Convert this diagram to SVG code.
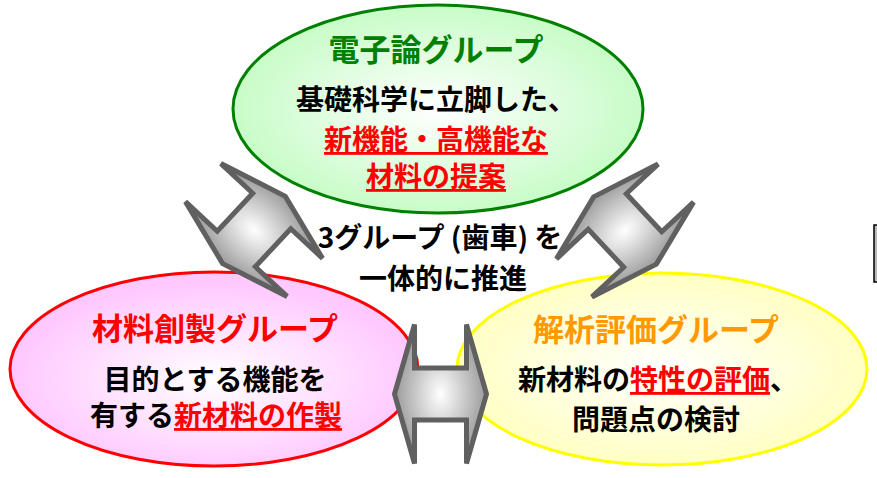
<svg xmlns="http://www.w3.org/2000/svg" width="877" height="478" viewBox="0 0 877 478">
<style>
  text { font-family: "Noto Sans CJK JP", "Noto Sans CJK SC", sans-serif; font-weight: bold; text-anchor: middle; }
  .t { font-size: 31px; }
  .b { font-size: 28px; fill: #000; }
  .red { fill: #ff0000; }
  .u { text-decoration: underline; }
  .arrow { stroke: #606060; stroke-width: 5; stroke-linejoin: miter; stroke-miterlimit: 2; fill: url(#gArrow); }
</style>
<defs>
  <radialGradient id="gGreen" cx="0.5" cy="0.5" r="0.5">
    <stop offset="0" stop-color="#ffffff"/>
    <stop offset="1" stop-color="#c8fcc8"/>
  </radialGradient>
  <radialGradient id="gPink" cx="0.5" cy="0.55" r="0.5">
    <stop offset="0" stop-color="#ffffff"/>
    <stop offset="1" stop-color="#ffc8ff"/>
  </radialGradient>
  <radialGradient id="gYellow" cx="0.5" cy="0.5" r="0.5">
    <stop offset="0" stop-color="#ffffff"/>
    <stop offset="1" stop-color="#ffffc4"/>
  </radialGradient>
  <radialGradient id="gArrow" cx="0.5" cy="0.5" r="0.5">
    <stop offset="0" stop-color="#ffffff"/>
    <stop offset="1" stop-color="#9a9a9a"/>
  </radialGradient>
  <path id="dblArrow" d="M -46,0 L -26,-69.5 L -26,-26 L 26,-26 L 26,-69.5 L 46,0 L 26,69.5 L 26,26 L -26,26 L -26,69.5 Z"/>
</defs>

<rect x="0" y="0" width="877" height="478" fill="#ffffff"/>

<g id="node-denshiron">
  <ellipse cx="438" cy="109" rx="205" ry="104" fill="url(#gGreen)" stroke="#008000" stroke-width="3"/>
  <text x="436" y="61" class="t" fill="#008000">電子論グループ</text>
  <text x="436" y="110" class="b">基礎科学に立脚した、</text>
  <text x="436" y="150" class="b red u">新機能・高機能な</text>
  <text x="436" y="187" class="b red u">材料の提案</text>
</g>

<g id="node-zairyo">
  <ellipse cx="214" cy="369" rx="204" ry="97" fill="url(#gPink)" stroke="#ff0000" stroke-width="3"/>
  <text x="215" y="340" class="t red">材料創製グループ</text>
  <text x="215" y="390" class="b">目的とする機能を</text>
  <text x="216" y="426" class="b">有する<tspan class="red u">新材料の作製</tspan></text>
</g>

<g id="node-kaiseki">
  <ellipse cx="662" cy="369" rx="205" ry="96" fill="url(#gYellow)" stroke="#ffff00" stroke-width="3"/>
  <text x="656" y="341" class="t" fill="#ff9900">解析評価グループ</text>
  <text x="658" y="390" class="b">新材料の<tspan class="red u">特性の評価</tspan>、</text>
  <text x="656" y="430" class="b">問題点の検討</text>
</g>

<g id="connectors">
  <use href="#dblArrow" class="arrow" transform="translate(254,230) rotate(-47)"/>
  <use href="#dblArrow" class="arrow" transform="translate(625,230.5) rotate(47)"/>
  <use href="#dblArrow" class="arrow" transform="translate(440.5,394)"/>
</g>

<g id="center-label">
  <text x="440" y="248" class="b" font-size="27">3グループ (歯車) を</text>
  <text x="443" y="289" class="b">一体的に推進</text>
</g>

<g id="edge-fragment">
  <path d="M 877,225 L 874,225 L 874,282 L 877,282" fill="#bbbbbb" stroke="#000000" stroke-width="1.5"/>
</g>
</svg>
